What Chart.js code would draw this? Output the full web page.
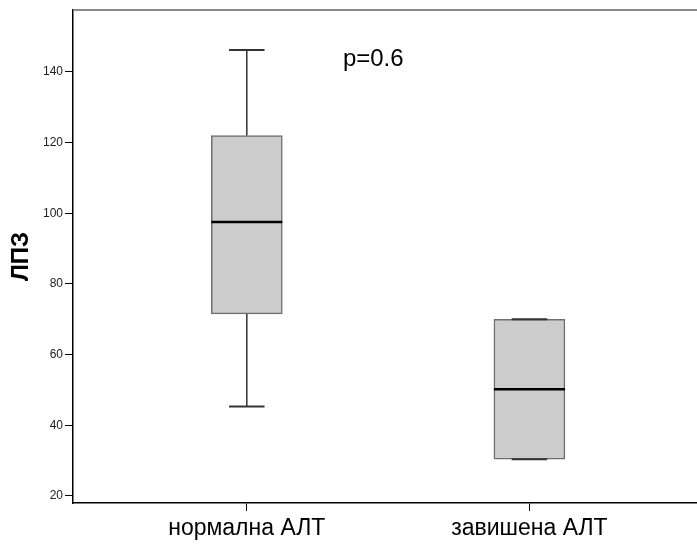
<!DOCTYPE html>
<html>
<head>
<meta charset="utf-8">
<script src="https://cdn.jsdelivr.net/npm/chart.js@4.4.0/dist/chart.umd.min.js"></script>
<style>
html, body { margin: 0; padding: 0; background: #fff; }
</style>
</head>
<body>
<canvas id="myChart" width="697" height="545"></canvas>
<script>
// box plot values
const groups = ['нормална АЛТ', 'завишена АЛТ'];
const whiskerLow = [45.3, 30.4];
const q1 = [71.5, 30.4];
const medians = [97.5, 50.2];
const q3 = [122.0, 70.0];
const whiskerHigh = [146.2, 70.0];
const yTicks = [20, 40, 60, 80, 100, 120, 140];
const pLabel = 'p=0.6';

const FONT = '"Liberation Sans", Arial, sans-serif';

const boxExtras = {
  id: 'boxExtras',
  afterDatasetsDraw(chart) {
    const ctx = chart.ctx;
    const x = chart.scales.x;
    const y = chart.scales.y;
    const area = chart.chartArea;
    const bars = chart.getDatasetMeta(0).data;
    ctx.save();

    // top frame
    ctx.strokeStyle = '#8a8a8a';
    ctx.lineWidth = 2;
    ctx.beginPath();
    ctx.moveTo(area.left, area.top);
    ctx.lineTo(area.right, area.top);
    ctx.stroke();

    groups.forEach((g, i) => {
      const cx = x.getPixelForValue(i);
      const capHalf = bars[i].width / 4;

      // whiskers
      ctx.strokeStyle = '#333';
      ctx.lineWidth = 1.5;
      ctx.beginPath();
      ctx.moveTo(cx, y.getPixelForValue(whiskerLow[i]));
      ctx.lineTo(cx, y.getPixelForValue(q1[i]));
      ctx.moveTo(cx, y.getPixelForValue(q3[i]));
      ctx.lineTo(cx, y.getPixelForValue(whiskerHigh[i]));
      ctx.stroke();

      ctx.lineWidth = 2;
      ctx.beginPath();
      [whiskerLow[i], whiskerHigh[i]].forEach(v => {
        const py = y.getPixelForValue(v);
        ctx.moveTo(cx - capHalf, py);
        ctx.lineTo(cx + capHalf, py);
      });
      ctx.stroke();

      // median
      const my = y.getPixelForValue(medians[i]);
      ctx.strokeStyle = '#000';
      ctx.lineWidth = 2.5;
      ctx.beginPath();
      ctx.moveTo(bars[i].x - bars[i].width / 2, my);
      ctx.lineTo(bars[i].x + bars[i].width / 2, my);
      ctx.stroke();
    });

    // p value
    ctx.fillStyle = '#000';
    ctx.font = '24px ' + FONT;
    ctx.textAlign = 'left';
    ctx.textBaseline = 'middle';
    ctx.fillText(pLabel, x.getPixelForValue(0.34), y.getPixelForValue(143.4));
    ctx.restore();
  }
};

const data = {
  datasets: [{
    type: 'bar',
    data: groups.map((g, i) => ({ x: i, y: [q1[i], q3[i]] })),
    backgroundColor: '#cccccc',
    borderColor: '#6e6e6e',
    borderWidth: 1.5,
    borderSkipped: false,
    barThickness: 71
  }]
};

const config = {
  type: 'bar',
  data: data,
  options: {
    responsive: false,
    animation: false,
    devicePixelRatio: 1,
    layout: { padding: { top: 10, right: 0, left: 0, bottom: 0 } },
    plugins: { legend: { display: false }, tooltip: { enabled: false } },
    scales: {
      x: {
        type: 'linear',
        offset: false,
        min: -0.615,
        max: 1.593,
        afterBuildTicks: s => { s.ticks = groups.map((g, i) => ({ value: i })); },
        afterFit: s => { s.height = 42; },
        grid: { offset: false, drawOnChartArea: false, drawTicks: true, tickLength: 8, color: '#000', lineWidth: 1 },
        border: { color: '#000', width: 1.5 },
        ticks: {
          callback: v => groups[v],
          autoSkip: false,
          maxRotation: 0,
          padding: 4,
          color: '#000',
          font: { family: FONT, size: 23 }
        }
      },
      y: {
        min: 18,
        max: 157.5,
        afterBuildTicks: s => { s.ticks = yTicks.map(v => ({ value: v })); },
        afterFit: s => { s.width = 73; },
        grid: { drawOnChartArea: false, drawTicks: true, tickLength: 8, color: '#000', lineWidth: 1 },
        border: { color: '#000', width: 1.5 },
        ticks: {
          padding: 2,
          color: '#222',
          font: { family: FONT, size: 12 }
        },
        title: {
          display: true,
          text: 'ЛПЗ',
          color: '#000',
          padding: { top: 7, bottom: 0 },
          font: { family: FONT, size: 24, weight: 'bold' }
        }
      }
    }
  },
  plugins: [boxExtras]
};

const myChart = new Chart(document.getElementById('myChart'), config);
</script>
</body>
</html>
